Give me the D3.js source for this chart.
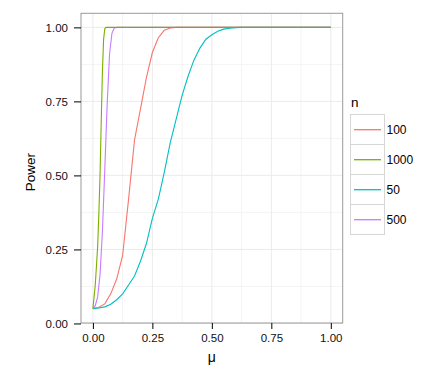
<!DOCTYPE html>
<html><head><meta charset="utf-8">
<script src="https://cdn.jsdelivr.net/npm/d3@7"></script>
<style>body{margin:0;background:#fff}svg{display:block}text{font-family:"Liberation Sans",Arial,sans-serif}</style>
</head><body><svg id="c" width="436" height="382"></svg>
<script>
// Data
const groups = ["100", "1000", "50", "500"];
const colors = ["#F8766D", "#7CAE00", "#00BFC4", "#C77CFF"];
const mu100 = [0, 0.025, 0.05, 0.075, 0.1, 0.125, 0.15, 0.175, 0.2, 0.225, 0.25, 0.275, 0.3, 0.325, 0.35, 1];
const p100  = [0.05, 0.055, 0.066, 0.10, 0.15, 0.23, 0.42, 0.62, 0.725, 0.83, 0.915, 0.965, 0.99, 0.998, 1, 1];
const mu1000 = [0, 0.01, 0.02, 0.025, 0.03, 0.035, 0.04, 0.045, 0.05, 0.055, 1];
const p1000  = [0.05, 0.13, 0.26, 0.37, 0.50, 0.68, 0.85, 0.96, 0.995, 1, 1];
const mu50 = [0, 0.025, 0.05, 0.075, 0.1, 0.125, 0.15, 0.175, 0.2, 0.225, 0.25, 0.275, 0.3, 0.325, 0.35, 0.375, 0.4, 0.425, 0.45, 0.475, 0.5, 0.525, 0.55, 0.575, 0.6, 0.625, 1];
const p50  = [0.05, 0.052, 0.056, 0.065, 0.08, 0.10, 0.13, 0.16, 0.21, 0.27, 0.355, 0.42, 0.51, 0.61, 0.69, 0.77, 0.835, 0.89, 0.93, 0.96, 0.975, 0.987, 0.994, 0.997, 0.999, 1, 1];
const mu500 = [0, 0.01, 0.02, 0.03, 0.04, 0.05, 0.06, 0.07, 0.08, 0.09, 0.1, 1];
const p500  = [0.05, 0.06, 0.09, 0.165, 0.31, 0.52, 0.74, 0.91, 0.98, 0.998, 1, 1];
const xTicks = [0, 0.25, 0.5, 0.75, 1];
const yTicks = [0, 0.25, 0.5, 0.75, 1];
const minorTicks = [0.125, 0.375, 0.625, 0.875];

const series = [
  {n: "100", mu: mu100, p: p100},
  {n: "1000", mu: mu1000, p: p1000},
  {n: "50", mu: mu50, p: p50},
  {n: "500", mu: mu500, p: p500}
];
const color = d3.scaleOrdinal(groups, colors);

const svg = d3.select("#c");
svg.append("rect").attr("width", 436).attr("height", 382).attr("fill", "#fff");
const L = 81, R = 342.7, T = 13.3, B = 323;
const x = d3.scaleLinear([-0.05, 1.05], [L, R]);
const y = d3.scaleLinear([0.0015, 1.0475], [B, T]);

const g = svg.append("g");
// minor grid
g.selectAll(".mx").data(minorTicks).join("line")
  .attr("x1", d => x(d)).attr("x2", d => x(d)).attr("y1", T).attr("y2", B)
  .attr("stroke", "#f4f4f4").attr("stroke-width", 1);
g.selectAll(".my").data(minorTicks).join("line")
  .attr("y1", d => y(d)).attr("y2", d => y(d)).attr("x1", L).attr("x2", R)
  .attr("stroke", "#f4f4f4").attr("stroke-width", 1);
// major grid
g.selectAll(".Mx").data(xTicks).join("line")
  .attr("x1", d => x(d)).attr("x2", d => x(d)).attr("y1", T).attr("y2", B)
  .attr("stroke", "#ebebeb").attr("stroke-width", 1);
g.selectAll(".My").data(yTicks).join("line")
  .attr("y1", d => y(d)).attr("y2", d => y(d)).attr("x1", L).attr("x2", R)
  .attr("stroke", "#ebebeb").attr("stroke-width", 1);

// lines
const line = d3.line().x(d => x(d[0])).y(d => y(d[1]));
const order = ["100", "50", "500", "1000"];
order.forEach(k => {
  const s = series.find(s => s.n === k);
  g.append("path").datum(s.mu.map((m, i) => [m, s.p[i]]))
    .attr("d", line).attr("fill", "none")
    .attr("stroke", color(k)).attr("stroke-width", 1.1);
});

// panel border
svg.append("rect").attr("x", L).attr("y", T).attr("width", R - L).attr("height", B - T)
  .attr("fill", "none").attr("stroke", "#9a9a9a").attr("stroke-width", 1);

// axes
const xa = svg.append("g").attr("transform", `translate(0,${B})`)
  .call(d3.axisBottom(x).tickValues(xTicks).tickFormat(d3.format(".2f")).tickSize(6).tickPadding(5));
const ya = svg.append("g").attr("transform", `translate(${L},0)`)
  .call(d3.axisLeft(y).tickValues(yTicks).tickFormat(d3.format(".2f")).tickSize(7).tickPadding(6));
[xa, ya].forEach(a => {
  a.select(".domain").remove();
  a.selectAll(".tick line").attr("stroke", "#000");
  a.selectAll(".tick text").attr("fill", "#111").style("font-size", "11.5px");
});

// axis titles
svg.append("text").attr("x", x(0.5)).attr("y", 362).attr("text-anchor", "middle")
  .style("font-size", "14px").attr("fill", "#000").text("μ");
svg.append("text").attr("transform", `translate(35,${(T + B) / 2 + 4}) rotate(-90)`)
  .attr("text-anchor", "middle").style("font-size", "13.5px").attr("fill", "#000").text("Power");

// legend
const lg = svg.append("g");
lg.append("text").attr("x", 351).attr("y", 107).style("font-size", "13.5px").attr("fill", "#000").text("n");
groups.forEach((k, i) => {
  const top = 114.5 + i * 30;
  lg.append("rect").attr("x", 350.5).attr("y", top).attr("width", 34).attr("height", 30)
    .attr("fill", "#fff").attr("stroke", "#d6d6d6").attr("stroke-width", 1);
  lg.append("path").attr("d", `M354,${top + 15.2}H381`).attr("fill", "none")
    .attr("stroke", colors[i]).attr("stroke-width", 1.3);
  lg.append("text").attr("x", 386.5).attr("y", top + 15).attr("dy", "0.36em")
    .style("font-size", "12px").attr("fill", "#000").text(k);
});
</script></body></html>
